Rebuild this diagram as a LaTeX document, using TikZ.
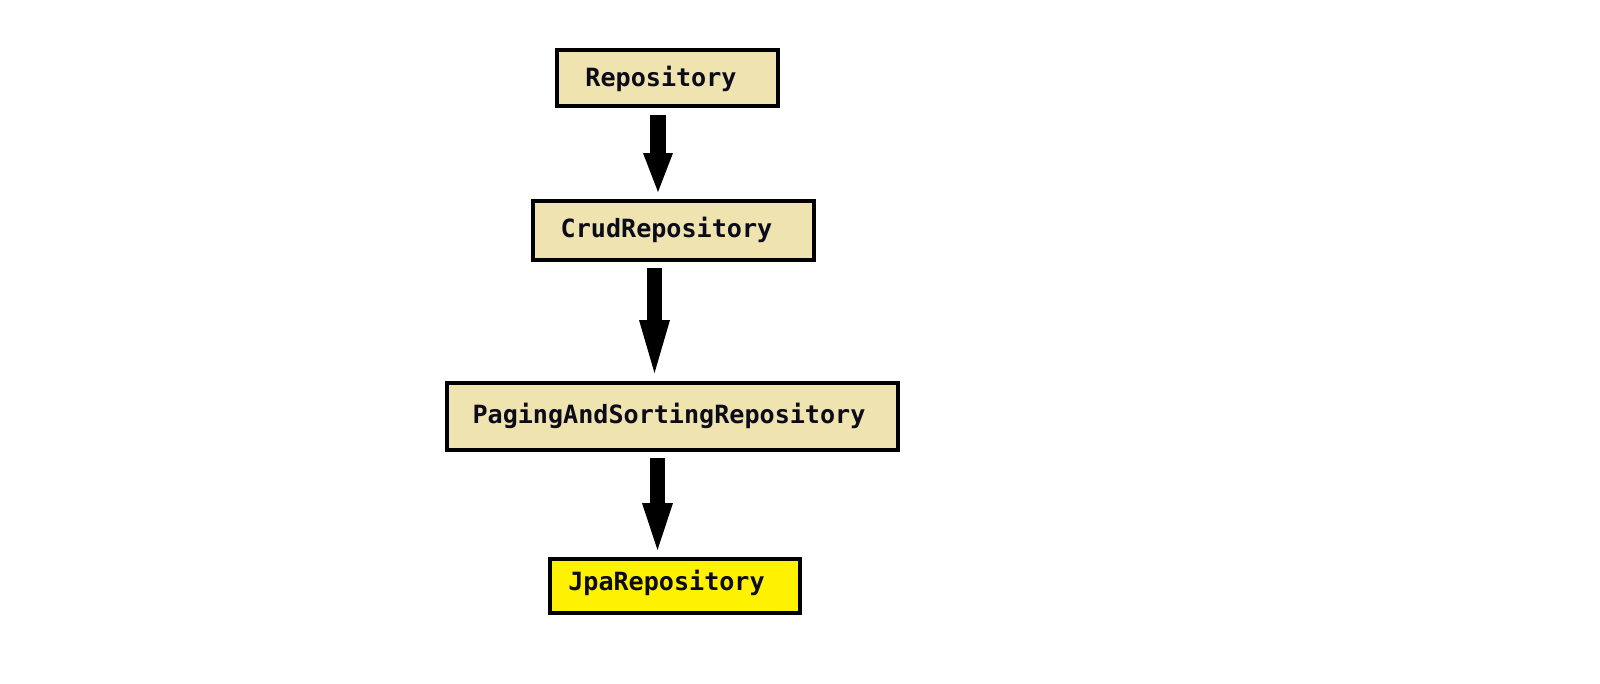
\documentclass[tikz,border=0pt]{standalone}
\usepackage{fontspec}
\setmonofont{DejaVu Sans Mono}
\usetikzlibrary{arrows.meta,calc}
\definecolor{beige}{HTML}{EFE3B0}
\definecolor{jpayellow}{HTML}{FFF200}
\definecolor{ink}{HTML}{0B0B1A}
\tikzset{
  ifacebox/.style={draw=black, line width=4pt, fill=beige, inner sep=0pt,
    text=ink, text depth=0pt,
    font=\ttfamily\bfseries\fontsize{25.1pt}{30pt}\selectfont},
  blockarrow/.style={draw=black, line cap=butt, line width=#1},
}
\begin{document}
\begin{tikzpicture}[x=1pt,y=-1pt]
\useasboundingbox (0,0) rectangle (1600,683);
\node[ifacebox, minimum width=221pt, minimum height=56pt, text height=17.3pt] (repo) at (667.5,78) {\hspace*{-13pt}Repository};
\node[ifacebox, minimum width=281pt, minimum height=59pt, text height=13.3pt] (crud) at (673.5,230.5) {\hspace*{-14pt}CrudRepository};
\node[ifacebox, minimum width=451pt, minimum height=67pt, text height=14.3pt] (paging) at (672.5,416.5) {\hspace*{-7pt}PagingAndSortingRepository};
\node[ifacebox, fill=jpayellow, minimum width=250pt, minimum height=54pt, text height=8.3pt] (jpa) at (675,586) {\hspace*{-17pt}JpaRepository};
\draw[blockarrow=16pt, -{Triangle[width=30pt,length=39pt,line width=0pt]}] ([shift={(-9.5,7)}]repo.south) -- ([shift={(-15.5,-7)}]crud.north);
\draw[blockarrow=15pt, -{Triangle[width=31pt,length=53pt,line width=0pt]}] ([shift={(-19,6)}]crud.south) -- ([shift={(-18,-8)}]paging.north);
\draw[blockarrow=15pt, -{Triangle[width=31pt,length=47pt,line width=0pt]}] ([shift={(-15,6)}]paging.south) -- ([shift={(-17.5,-7)}]jpa.north);
\end{tikzpicture}
\end{document}
